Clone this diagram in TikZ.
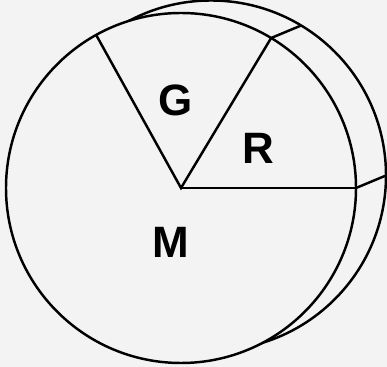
\documentclass[tikz,border=0pt]{standalone}
\usepackage{fontspec}
\setmainfont{Liberation Sans}
\usepackage{tikz}
\usetikzlibrary{positioning,calc}

\definecolor{paper}{RGB}{243,243,243}

\begin{document}
\begin{tikzpicture}[line width=1.4pt,
		pielabel/.style={font=\fontsize{25}{25}\selectfont\bfseries,inner sep=0pt}]
		
		% Frame
		\fill[paper] (-3.62,-3.58) rectangle (4.12,3.76);
		\useasboundingbox (-3.62,-3.58) rectangle (4.12,3.76);
		
		% Centres
		\coordinate (O) at (0,0);
		\coordinate (Ob) at (0.6,0.25);
		
		% Back circle
		\draw[fill=paper] (Ob) circle (3.5);
		
		% Front circle
		\draw[fill=paper] (O) circle (3.5);
		
		% Sector edges
		\coordinate (g) at (119:3.5);
		\coordinate (r) at (59:3.5);
		\coordinate (m) at (0:3.5);
		\coordinate (rb) at ($(r)+(Ob)$);
		\coordinate (mb) at ($(m)+(Ob)$);
		
		\draw (g)--(O)--(r);
		\draw (O)--(m);
		
		% Side edges
		\draw (r)--(rb);
		\draw (m)--(mb);
		
		% Labels
		\node[pielabel] (G) at (-0.1,1.76){G};
		\node[pielabel] (R) at (1.54,0.8){R};
		\node[pielabel] (M) at (-0.2,-1.08){M};
		
	\end{tikzpicture}
\end{document}
